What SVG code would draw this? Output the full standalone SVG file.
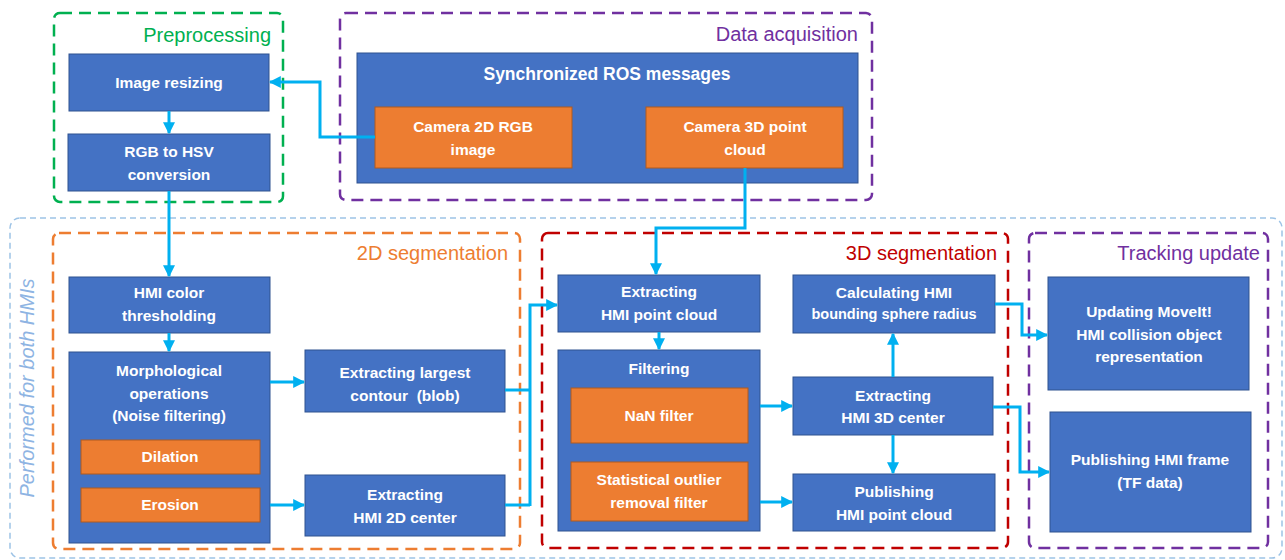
<svg xmlns="http://www.w3.org/2000/svg" width="1285" height="560" viewBox="0 0 1285 560">
<defs>
<marker id="ah" viewBox="0 0 10 10" refX="9" refY="5" markerWidth="4" markerHeight="4" orient="auto-start-reverse" markerUnits="strokeWidth">
<path d="M0,0 L10,5 L0,10 z" fill="#00B0F0"/>
</marker>
</defs>
<style>
.bg{fill:#ffffff}
.b{fill:#4472C4;stroke:#2F528F;stroke-width:1}
.o{fill:#ED7D31;stroke:#AE5A21;stroke-width:1}
.t{font-family:"Liberation Sans",Arial,sans-serif;font-weight:bold;font-size:15.5px;fill:#ffffff;text-anchor:middle}
.h{font-family:"Liberation Sans",Arial,sans-serif;font-size:20px;text-anchor:end}
.g{fill:none;stroke-width:2.5;stroke-dasharray:12 7}
.c{fill:none;stroke:#00B0F0;stroke-width:3;stroke-linejoin:miter}
.a{marker-end:url(#ah)}
</style>
<rect class="bg" x="0" y="0" width="1285" height="560"/>

<g id="group-performed">
<rect x="10" y="218" width="1272" height="340" rx="10" fill="none" stroke="#9DC3E6" stroke-width="1.5" stroke-dasharray="6 4"/>
<text transform="translate(34,388) rotate(-90)" font-family="'Liberation Sans',Arial,sans-serif" font-style="italic" font-size="20" fill="#8EB4E3" text-anchor="middle">Performed for both HMIs</text>
</g>

<g id="group-preprocessing">
<rect class="g" x="54" y="13" width="229" height="189" rx="6" stroke="#00B050"/>
<text class="h" x="271" y="42" fill="#00B050">Preprocessing</text>
</g>
<g id="group-data-acquisition">
<rect class="g" x="340" y="13" width="532" height="187" rx="6" stroke="#7030A0"/>
<text class="h" x="858" y="41" fill="#7030A0">Data acquisition</text>
</g>
<g id="group-2d-segmentation">
<rect class="g" x="53" y="233" width="467" height="316" rx="6" stroke="#ED7D31"/>
<text class="h" x="508" y="260" fill="#ED7D31">2D segmentation</text>
</g>
<g id="group-3d-segmentation">
<rect class="g" x="542" y="233" width="466" height="315" rx="6" stroke="#C00000"/>
<text class="h" x="997" y="260" fill="#C00000">3D segmentation</text>
</g>
<g id="group-tracking-update">
<rect class="g" x="1029" y="233" width="239" height="315" rx="6" stroke="#7030A0"/>
<text class="h" x="1260" y="260" fill="#7030A0">Tracking update</text>
</g>

<g id="node-image-resizing">
<rect class="b" x="69" y="54" width="200" height="57"/>
<text class="t" x="169" y="88">Image resizing</text>
</g>
<g id="node-rgb-hsv">
<rect class="b" x="68" y="134" width="202" height="57"/>
<text class="t" x="169" y="157">RGB to HSV</text>
<text class="t" x="169" y="180">conversion</text>
</g>

<g id="node-sync-ros">
<rect class="b" x="357" y="53" width="501" height="130"/>
<text class="t" x="607" y="80" style="font-size:17.5px">Synchronized ROS messages</text>
</g>
<g id="node-camera-2d">
<rect class="o" x="375" y="107" width="197" height="61"/>
<text class="t" x="473" y="132">Camera 2D RGB</text>
<text class="t" x="473" y="155">image</text>
</g>
<g id="node-camera-3d">
<rect class="o" x="646" y="107" width="197" height="61"/>
<text class="t" x="745" y="132">Camera 3D point</text>
<text class="t" x="745" y="155">cloud</text>
</g>

<g id="node-hmi-color">
<rect class="b" x="69" y="277" width="201" height="56"/>
<text class="t" x="169" y="298">HMI color</text>
<text class="t" x="169" y="321">thresholding</text>
</g>
<g id="node-morph">
<rect class="b" x="69" y="352" width="201" height="191"/>
<text class="t" x="169" y="376">Morphological</text>
<text class="t" x="169" y="399">operations</text>
<text class="t" x="169" y="421">(Noise filtering)</text>
</g>
<g id="node-dilation">
<rect class="o" x="81" y="440" width="179" height="34"/>
<text class="t" x="170" y="462">Dilation</text>
</g>
<g id="node-erosion">
<rect class="o" x="81" y="488" width="179" height="34"/>
<text class="t" x="170" y="510">Erosion</text>
</g>
<g id="node-contour">
<rect class="b" x="305" y="350" width="200" height="62"/>
<text class="t" x="405" y="378">Extracting largest</text>
<text class="t" x="405" y="401" xml:space="preserve" style="white-space:pre">contour  (blob)</text>
</g>
<g id="node-2d-center">
<rect class="b" x="305" y="475" width="200" height="61"/>
<text class="t" x="405" y="500">Extracting</text>
<text class="t" x="405" y="523">HMI 2D center</text>
</g>

<g id="node-point-cloud">
<rect class="b" x="558" y="275" width="202" height="57"/>
<text class="t" x="659" y="297">Extracting</text>
<text class="t" x="659" y="320">HMI point cloud</text>
</g>
<g id="node-filtering">
<rect class="b" x="558" y="350" width="202" height="181"/>
<text class="t" x="659" y="374">Filtering</text>
</g>
<g id="node-nan">
<rect class="o" x="571" y="388" width="177" height="55"/>
<text class="t" x="659" y="421">NaN filter</text>
</g>
<g id="node-sor">
<rect class="o" x="571" y="462" width="177" height="59"/>
<text class="t" x="659" y="485">Statistical outlier</text>
<text class="t" x="659" y="508">removal filter</text>
</g>
<g id="node-sphere">
<rect class="b" x="793" y="275" width="202" height="58"/>
<text class="t" x="894" y="298">Calculating HMI</text>
<text class="t" x="894" y="319" style="font-size:14.5px">bounding sphere radius</text>
</g>
<g id="node-3d-center">
<rect class="b" x="793" y="377" width="200" height="58"/>
<text class="t" x="893" y="401">Extracting</text>
<text class="t" x="893" y="423">HMI 3D center</text>
</g>
<g id="node-pub-cloud">
<rect class="b" x="793" y="474" width="202" height="57"/>
<text class="t" x="894" y="497">Publishing</text>
<text class="t" x="894" y="520">HMI point cloud</text>
</g>

<g id="node-moveit">
<rect class="b" x="1048" y="277" width="201" height="113"/>
<text class="t" x="1149" y="317">Updating MoveIt!</text>
<text class="t" x="1149" y="340">HMI collision object</text>
<text class="t" x="1149" y="362">representation</text>
</g>
<g id="node-tf">
<rect class="b" x="1050" y="412" width="201" height="120"/>
<text class="t" x="1150" y="465">Publishing HMI frame</text>
<text class="t" x="1150" y="488">(TF data)</text>
</g>

<g id="connectors">
<path class="c a" d="M169,111 V133"/>
<path class="c a" d="M375,137 H320 V82 H270"/>
<path class="c a" d="M169,191 V276"/>
<path class="c a" d="M745,168 V228 H656 V274"/>
<path class="c a" d="M169,333 V351"/>
<path class="c a" d="M270,382 H304"/>
<path class="c a" d="M270,505 H304"/>
<path class="c" d="M505,390 H530"/>
<path class="c" d="M505,505 H530"/>
<path class="c a" d="M530,506 V305 H557"/>
<path class="c a" d="M659,332 V349"/>
<path class="c a" d="M760,406 H792"/>
<path class="c a" d="M760,502 H792"/>
<path class="c a" d="M893,377 V334"/>
<path class="c a" d="M893,435 V473"/>
<path class="c a" d="M995,304 H1022 V335 H1047"/>
<path class="c a" d="M993,407 H1020 V472 H1049"/>
</g>
</svg>
